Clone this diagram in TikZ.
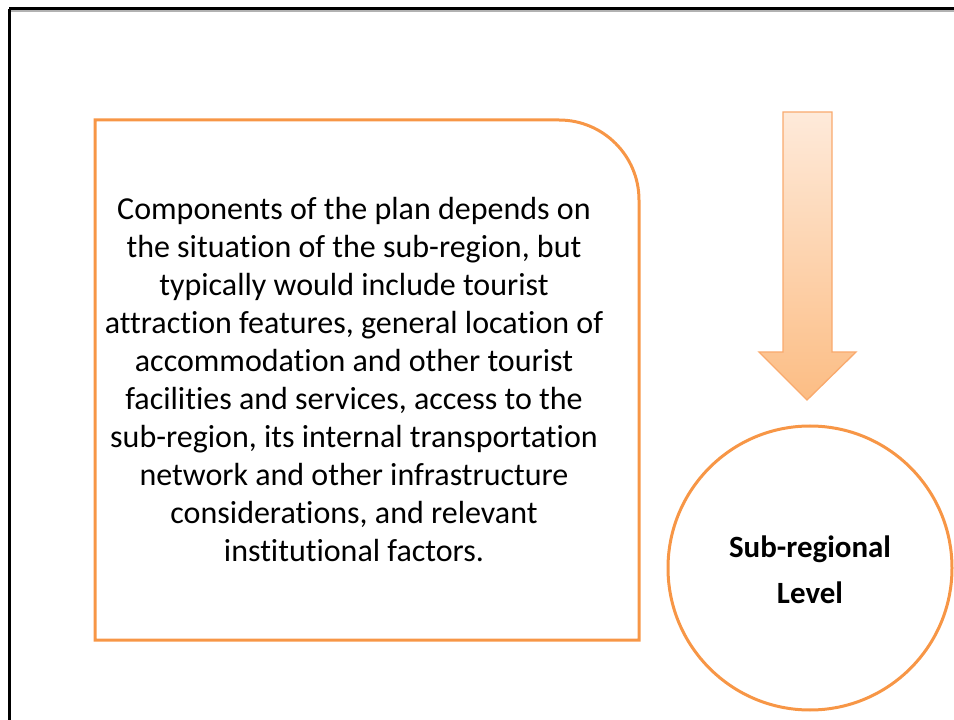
\documentclass[tikz,border=0pt]{standalone}
\usepackage{fontspec}
\setmainfont{Carlito}[Ligatures=NoCommon]
\begin{document}
\begin{tikzpicture}[x=0.75pt,y=-0.75pt,
  orangeline/.style={draw=orange1,line width=2.25pt},
  bodytext/.style={align=center,font=\fontsize{24}{28.5}\selectfont,inner sep=0pt},
  leveltext/.style={align=center,font=\fontsize{23.2}{34.5}\selectfont\bfseries,inner sep=0pt}]
\definecolor{orange1}{RGB}{247,150,70}
\definecolor{arrowtop}{RGB}{254,234,218}
\definecolor{arrowbot}{RGB}{252,189,132}
\definecolor{arrowline}{RGB}{249,170,110}
\useasboundingbox (0,0) rectangle (954,720);
\begin{scope}
\clip (0,0) rectangle (954,720);
% slide frame
\draw[gray!60,line width=1.5pt] (10,11) -- (970,11);
\draw[black,line width=2.25pt] (9,9) -- (970,9);
\draw[black,line width=2.25pt] (9,9) -- (9,740);
\end{scope}
% text panel with one rounded corner
\draw[orangeline] (95,640) -- (95,120) -- (559,120)
  arc[start angle=-90,end angle=0,radius=80] -- (639,640) -- cycle;
\node[bodytext] (body) at (354,380) {Components of the plan depends on\\
the situation of the sub-region, but\\
typically would include tourist\\
attraction features, general location of\\
accommodation and other tourist\\
facilities and services, access to the\\
sub-region, its internal transportation\\
network and other infrastructure\\
considerations, and relevant\\
institutional factors.};
% downward arrow
\coordinate (atop) at (807,112);
\shade[top color=arrowtop,bottom color=arrowbot,draw=arrowline,line width=1pt]
  (783,112) -- (832,112) -- (832,352) -- (856,352) -- (807,400)
  -- (759,352) -- (783,352) -- cycle;
% level circle
\node[orangeline,circle,minimum size=213pt,inner sep=0pt] (lvl) at (810,568) {};
\node[leveltext] (lvllabel) at (810,570) {Sub-regional\\Level};
\end{tikzpicture}
\end{document}
